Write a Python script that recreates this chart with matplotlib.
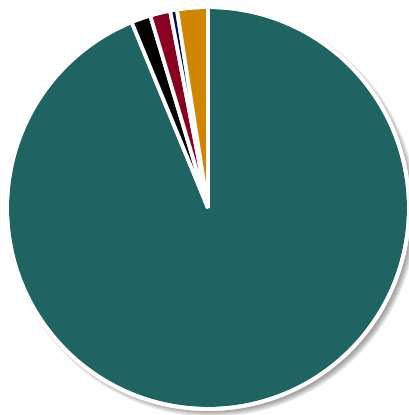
import numpy as np
import matplotlib.pyplot as plt
from matplotlib.patches import Circle

# Datos del gráfico (porcentajes estimados)
etiquetas = ['A', 'B', 'C', 'D', 'E']
valores = [93.8, 1.56, 1.62, 0.55, 2.47]
colores = ['#1f6462', '#000000', '#8a0020', '#0c0a4a', '#d08600']

fig = plt.figure(figsize=(4.10, 4.15), dpi=100)
ax = fig.add_axes([0, 0, 1, 1])

cx, cy, r = 208, 207, 201

# Sombra difusa abajo a la derecha
for i in range(8):
    ax.add_patch(Circle((cx + 4, cy - 4), r + 4 - i * 0.8, color='#000000',
                        alpha=0.05, lw=0, zorder=0))

ax.pie(valores, colors=colores, startangle=90, counterclock=False,
       center=(cx, cy), radius=r, frame=True,
       wedgeprops=dict(edgecolor='white', linewidth=2.8))
ax.add_patch(Circle((cx, cy), r, fill=False, edgecolor='white', lw=2.8, zorder=5))

ax.set_xlim(0, 410)
ax.set_ylim(0, 415)
ax.set_aspect('equal')
ax.axis('off')

plt.savefig('out.png', dpi=100)
